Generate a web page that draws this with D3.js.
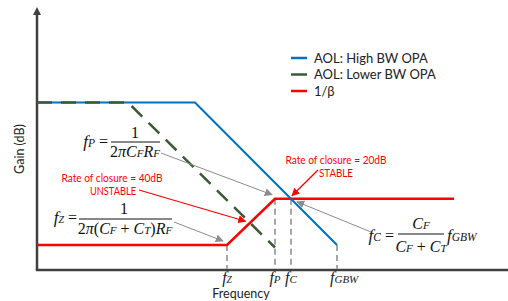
<!DOCTYPE html>
<html><head><meta charset="utf-8">
<script src="https://cdn.jsdelivr.net/npm/d3@7"></script>
<style>body{margin:0;background:#fff} svg{display:block}</style>
</head><body><svg id="chart"></svg>
<script>
var W = 508, H = 301;

// frequency in decades (log scale), gain in dB
var highFreq = [0, 3.16, 6.0], highGain = [67, 67, 10];
var lowFreq = [0, 1.82, 4.76], lowGain = [67, 67, 9];
var betaFreq = [0, 3.8, 4.76, 8.34], betaGain = [10, 10, 28.5, 28.5];
var markFreq = [3.8, 4.76, 5.08, 6.0];
var markGain = [10, 28.5, 28.5, 10];
var markMain = ["f", "f", "f", "f"];
var markSub = ["Z", "P", "C", "GBW"];
var legendNames = ["AOL: High BW OPA", "AOL: Lower BW OPA", "1/\u03b2"];
var legendColors = ["#0070c0", "#3b5a34", "#ff0000"];

var x = d3.scaleLinear().domain([0, 10]).range([37, 537]);
var y = d3.scaleLinear().domain([0, 100]).range([270, 20]);

var svg = d3.select('#chart').attr('width', W).attr('height', H);
var defs = svg.append('defs');

function marker(id, color, size) {
  defs.append('marker')
    .attr('id', id)
    .attr('viewBox', '0 0 10 10')
    .attr('refX', 9).attr('refY', 5)
    .attr('markerUnits', 'userSpaceOnUse')
    .attr('markerWidth', size).attr('markerHeight', size)
    .attr('orient', 'auto')
    .append('path')
    .attr('d', 'M0,0 L10,5 L0,10 Z')
    .attr('fill', color);
}
marker('arrGray', '#8c8c8c', 8);
marker('arrRed', '#ff0000', 8);

var line = d3.line().x(function(d) { return x(d[0]); }).y(function(d) { return y(d[1]); });
function pts(f, g) { return f.map(function(v, i) { return [v, g[i]]; }); }

// axes
var axisColor = '#404040';
svg.append('line')
  .attr('x1', x(0)).attr('y1', y(0))
  .attr('x2', x(0)).attr('y2', 14)
  .attr('stroke', axisColor).attr('stroke-width', 2.5);
svg.append('path')
  .attr('d', 'M' + (x(0) - 4) + ',15 L' + x(0) + ',7 L' + (x(0) + 4) + ',15 Z')
  .attr('fill', axisColor);
svg.append('line')
  .attr('x1', x(0) - 1.2).attr('y1', y(0))
  .attr('x2', W).attr('y2', y(0))
  .attr('stroke', axisColor).attr('stroke-width', 2.5);

// frequency markers
svg.selectAll('.mark').data(markFreq).enter().append('line')
  .attr('x1', function(d) { return x(d); })
  .attr('x2', function(d) { return x(d); })
  .attr('y1', function(d, i) { return y(markGain[i]); })
  .attr('y2', y(0) - 1)
  .attr('stroke', '#a6a6a6').attr('stroke-width', 2)
  .attr('stroke-dasharray', '6,4');

// series
svg.append('path').datum(pts(betaFreq, betaGain))
  .attr('d', line).attr('fill', 'none')
  .attr('stroke', legendColors[2]).attr('stroke-width', 2.5);
svg.append('path').datum(pts(highFreq, highGain))
  .attr('d', line).attr('fill', 'none')
  .attr('stroke', legendColors[0]).attr('stroke-width', 2);
svg.append('path').datum(pts(lowFreq, lowGain))
  .attr('d', line).attr('fill', 'none')
  .attr('stroke', legendColors[1]).attr('stroke-width', 2.5)
  .attr('stroke-dasharray', '15,9');

// tick labels
var serif = 'Liberation Serif, Times New Roman, serif';
var tl = svg.selectAll('.tl').data(markFreq).enter().append('text')
  .attr('x', function(d) { return x(d); })
  .attr('y', 283)
  .attr('text-anchor', function(d, i) { return i == 3 ? 'start' : 'middle'; })
  .attr('dx', function(d, i) { return i == 3 ? -7 : 0; })
  .attr('font-family', serif).attr('font-style', 'italic')
  .attr('fill', '#222');
tl.append('tspan').attr('font-size', 16).text(function(d, i) { return markMain[i]; });
tl.append('tspan').attr('font-size', function(d, i) { return i == 0 ? 9.5 : 11; })
  .text(function(d, i) { return markSub[i]; });

var sans = 'Lato, Open Sans, sans-serif';
svg.append('text')
  .attr('x', 241).attr('y', 298)
  .attr('text-anchor', 'middle')
  .attr('font-family', sans).attr('font-size', 12.5)
  .attr('fill', '#222')
  .text('Frequency');
svg.append('text')
  .attr('transform', 'translate(24,149) rotate(-90)')
  .attr('text-anchor', 'middle')
  .attr('font-family', sans).attr('font-size', 12.5)
  .attr('fill', '#222')
  .text('Gain (dB)');

// legend
var leg = svg.selectAll('.leg').data(legendNames).enter().append('g')
  .attr('transform', function(d, i) { return 'translate(291,' + (58 + i * 16.5) + ')'; });
leg.append('line')
  .attr('x1', 0).attr('x2', 16)
  .attr('stroke', function(d, i) { return legendColors[i]; })
  .attr('stroke-width', 2.5);
leg.append('text')
  .attr('x', 23).attr('y', 4.5)
  .attr('font-family', sans).attr('font-size', 13)
  .attr('fill', '#222')
  .text(function(d) { return d; });

// formula helper: parts are [text, size, upright]
function rich(px, py, anchor, parts) {
  var t = svg.append('text')
    .attr('x', px).attr('y', py)
    .attr('text-anchor', anchor)
    .attr('font-family', serif).attr('font-style', 'italic')
    .attr('fill', '#111');
  parts.forEach(function(p) {
    t.append('tspan').attr('font-size', p[1])
      .attr('font-style', p[2] ? 'normal' : 'italic')
      .text(p[0]);
  });
  return t;
}
function bar(x1, x2, yy) {
  svg.append('line').attr('x1', x1).attr('x2', x2).attr('y1', yy).attr('y2', yy)
    .attr('stroke', '#111').attr('stroke-width', 1);
}

// fP = 1 / (2 pi CF RF)
rich(108, 147, 'end', [['f', 17], ['P', 11.5], [' =', 16, 1]]);
rich(135, 138, 'middle', [['1', 16, 1]]);
bar(111, 160, 142);
rich(135, 157, 'middle', [['2', 16, 1], ['\u03c0', 16], ['C', 16], ['F', 11], ['R', 16], ['F', 11]]);

// fz = 1 / (2 pi (CF + CT) RF)
rich(77, 223, 'end', [['f', 17], ['Z', 10], [' =', 16, 1]]);
rich(124, 214, 'middle', [['1', 16, 1]]);
bar(79, 172, 219);
rich(125, 234, 'middle', [['2', 16, 1], ['\u03c0', 16], ['(', 16, 1], ['C', 16], ['F', 11], [' + ', 16, 1], ['C', 16], ['T', 11], [')', 16, 1], ['R', 16], ['F', 11]]);

// fC = CF / (CF + CT) fGBW
rich(394, 241, 'end', [['f', 17], ['C', 11.5], [' =', 16, 1]]);
rich(421, 229, 'middle', [['C', 16], ['F', 11]]);
bar(398, 444, 234);
rich(421, 252, 'middle', [['C', 16], ['F', 11], [' + ', 16, 1], ['C', 16], ['T', 11]]);
rich(447, 241, 'start', [['f', 17], ['GBW', 11.5]]);

// red annotations
function note(px, py, txt, len) {
  svg.append('text').attr('x', px).attr('y', py)
    .attr('text-anchor', 'middle')
    .attr('font-family', sans).attr('font-size', 11)
    .attr('textLength', len).attr('lengthAdjust', 'spacingAndGlyphs')
    .attr('fill', '#ff0000').text(txt);
}
note(112, 182, 'Rate of closure = 40dB', 101);
note(113, 195, 'UNSTABLE', 46);
note(336, 164, 'Rate of closure = 20dB', 101);
note(336, 177, 'STABLE', 34);

function arrow(x1, y1, x2, y2, color, id) {
  svg.append('line')
    .attr('x1', x1).attr('y1', y1).attr('x2', x2).attr('y2', y2)
    .attr('stroke', color).attr('stroke-width', color == '#ff0000' ? 1.3 : 1)
    .attr('marker-end', 'url(#' + id + ')');
}
var pP = [x(markFreq[1]), y(markGain[1])];
var pZ = [x(markFreq[0]), y(markGain[0])];
var pC = [x(markFreq[2]), y(markGain[2])];
arrow(161, 153, pP[0] - 3, pP[1] - 4, '#8c8c8c', 'arrGray');
arrow(174, 222, pZ[0] - 4, pZ[1] - 4, '#8c8c8c', 'arrGray');
arrow(139, 190, x(4.17), y(19.5), '#ff0000', 'arrRed');
arrow(318, 170, pC[0] + 1, pC[1] - 3, '#ff0000', 'arrRed');
arrow(371, 232, pC[0] + 6, pC[1] + 3, '#8c8c8c', 'arrGray');
</script></body></html>
